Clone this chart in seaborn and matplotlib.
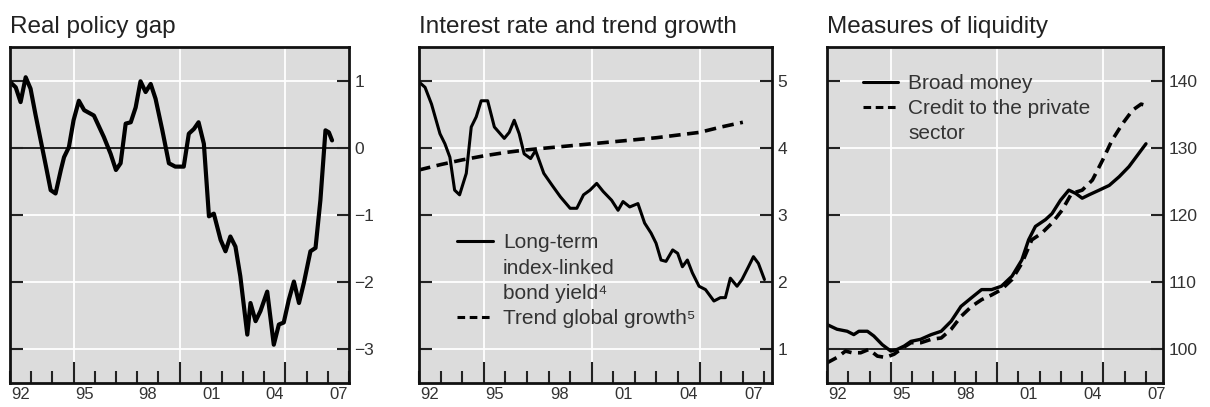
import matplotlib
matplotlib.use("Agg")
import matplotlib.pyplot as plt
from matplotlib.ticker import MultipleLocator
from matplotlib.lines import Line2D
import seaborn as sns

# ---- Real policy gap (percentage points) ----
gap_t = [1992.0, 1992.27, 1992.5, 1992.74, 1992.97, 1993.2, 1993.45, 1993.7, 1993.92,
         1994.15, 1994.4, 1994.55, 1994.78, 1995.0, 1995.25, 1995.5, 1995.96, 1996.43,
         1996.75, 1997.0, 1997.22, 1997.46, 1997.7, 1997.93, 1998.16, 1998.4, 1998.64,
         1998.87, 1999.19, 1999.5, 1999.8, 2000.2, 2000.44, 2000.68, 2000.9, 2001.15,
         2001.39, 2001.62, 2001.94, 2002.17, 2002.4, 2002.64, 2002.87, 2003.2, 2003.35,
         2003.59, 2003.82, 2004.14, 2004.45, 2004.69, 2004.92, 2005.16, 2005.4, 2005.64,
         2005.87, 2006.18, 2006.42, 2006.65, 2006.89, 2007.05, 2007.2]
gap_v = [0.98, 0.90, 0.68, 1.05, 0.88, 0.50, 0.11, -0.28, -0.63,
         -0.68, -0.33, -0.14, 0.01, 0.41, 0.70, 0.56, 0.48, 0.16,
         -0.09, -0.33, -0.23, 0.36, 0.38, 0.60, 0.99, 0.83, 0.95,
         0.73, 0.26, -0.23, -0.28, -0.28, 0.21, 0.28, 0.38, 0.06,
         -1.02, -0.98, -1.37, -1.54, -1.32, -1.47, -1.91, -2.78, -2.31,
         -2.58, -2.43, -2.14, -2.93, -2.63, -2.60, -2.26, -1.99, -2.31,
         -2.01, -1.54, -1.49, -0.78, 0.26, 0.23, 0.11]

# ---- Long-term index-linked bond yield and trend global growth (%) ----
yld_t = [1992.0, 1992.28, 1992.58, 1992.97, 1993.2, 1993.43, 1993.65, 1993.88, 1994.19,
         1994.42, 1994.65, 1994.88, 1995.18, 1995.49, 1995.95, 1996.18, 1996.41, 1996.64,
         1996.87, 1997.17, 1997.4, 1997.78, 1998.17, 1998.55, 1999.0, 1999.31, 1999.62,
         1999.92, 2000.23, 2000.53, 2000.92, 2001.22, 2001.45, 2001.76, 2002.14, 2002.45,
         2002.75, 2002.98, 2003.21, 2003.44, 2003.75, 2003.98, 2004.2, 2004.43, 2004.66,
         2004.97, 2005.27, 2005.66, 2005.96, 2006.19, 2006.42, 2006.73, 2006.96, 2007.26,
         2007.49, 2007.72, 2008.0]
yld_v = [4.98, 4.90, 4.65, 4.21, 4.06, 3.86, 3.37, 3.30, 3.62,
         4.31, 4.46, 4.70, 4.70, 4.31, 4.14, 4.23, 4.41, 4.21,
         3.91, 3.84, 3.96, 3.62, 3.44, 3.27, 3.10, 3.10, 3.30,
         3.37, 3.47, 3.35, 3.22, 3.07, 3.20, 3.12, 3.17, 2.88,
         2.73, 2.58, 2.33, 2.31, 2.48, 2.43, 2.23, 2.33, 2.14,
         1.94, 1.89, 1.72, 1.77, 1.77, 2.06, 1.94, 2.04, 2.23,
         2.38, 2.28, 2.04]
trend_t = [1992, 1993, 1994, 1995, 1996, 1997, 1998, 1999, 2000, 2001, 2002, 2003,
           2004, 2005, 2006, 2007]
trend_v = [3.67, 3.75, 3.82, 3.88, 3.93, 3.97, 4.00, 4.03, 4.06, 4.09, 4.12, 4.15,
           4.19, 4.23, 4.31, 4.38]

# ---- Measures of liquidity (index) ----
money_t = [1992.0, 1992.47, 1992.95, 1993.26, 1993.5, 1993.9, 1994.2, 1994.6, 1995.0,
           1995.3, 1995.63, 1995.95, 1996.4, 1996.9, 1997.37, 1997.84, 1998.3, 1998.8,
           1999.27, 1999.74, 2000.2, 2000.7, 2001.16, 2001.48, 2001.8, 2002.27, 2002.58,
           2002.98, 2003.37, 2003.7, 2004.0, 2004.32, 2004.8, 2005.27, 2005.74, 2006.2,
           2006.6, 2007.0]
money_v = [103.7, 103.0, 102.7, 102.2, 102.7, 102.7, 102.0, 100.7, 99.75,
           100.0, 100.5, 101.2, 101.5, 102.2, 102.7, 104.2, 106.4, 107.7,
           108.9, 108.9, 109.4, 110.9, 113.3, 116.3, 118.3, 119.3, 120.2,
           122.2, 123.7, 123.2, 122.5, 123.0, 123.7, 124.4, 125.7, 127.2,
           128.9, 130.6]
credit_t = [1992.0, 1992.47, 1992.87, 1993.18, 1993.58, 1993.97, 1994.37, 1994.76, 1995.16,
            1995.55, 1995.95, 1996.42, 1996.9, 1997.37, 1997.84, 1998.3, 1998.8, 1999.27,
            1999.74, 2000.2, 2000.7, 2001.16, 2001.63, 2002.1, 2002.58, 2003.05, 2003.5,
            2004.0, 2004.48, 2004.95, 2005.4, 2005.9, 2006.37, 2006.77, 2007.0]
credit_v = [98.0, 98.8, 99.75, 99.5, 99.5, 100.0, 99.0, 98.8, 99.3,
            100.2, 101.0, 101.0, 101.5, 101.7, 103.0, 104.9, 106.4, 107.4,
            108.1, 108.9, 110.4, 112.8, 116.3, 117.3, 118.8, 120.7, 123.2,
            123.7, 125.2, 128.1, 131.1, 133.6, 135.6, 136.5, 136.3]

year_labels = ["92", "95", "98", "01", "04", "07"]
label_years = [1992, 1995, 1998, 2001, 2004, 2007]

titles = ["Real policy gap", "Interest rate and trend growth", "Measures of liquidity"]

sns.set_style("darkgrid", {"axes.facecolor": "#dcdcdc", "grid.color": "white"})
plt.rcParams["font.family"] = ["Liberation Sans", "DejaVu Sans"]
plt.rcParams["axes.unicode_minus"] = True

W, H = 1210, 407
fig = plt.figure(figsize=(W / 100, H / 100), dpi=100)
fig.patch.set_facecolor("white")

frames = [(10, 349), (419, 772), (827, 1163)]
top_px, bot_px = 47, 383
xlims = [(1992, 2008), (1992, 2008.35), (1992, 2007.8)]
ylims = [(-3.5, 1.5), (0.5, 5.5), (95, 145)]
yticks = [[-3, -2, -1, 0, 1], [1, 2, 3, 4, 5], [100, 110, 120, 130, 140]]

axes = []
for (l, r), xl, yl, yt, title in zip(frames, xlims, ylims, yticks, titles):
    ax = fig.add_axes([l / W, (H - bot_px) / H, (r - l) / W, (bot_px - top_px) / H])
    ax.set_xlim(*xl)
    ax.set_ylim(*yl)
    ax.set_yticks(yt)
    ax.set_yticklabels([f"{v:g}".replace("-", "\u2212") for v in yt])
    ax.set_xticks([1995, 2000, 2005])
    ax.set_xticklabels([])
    ax.xaxis.set_minor_locator(MultipleLocator(1))
    ax.grid(which="major", color="white", linewidth=1.3)
    ax.grid(which="minor", visible=False)
    ax.tick_params(axis="x", which="major", direction="in", length=15, width=1.5,
                   color="#222222", bottom=True, top=False)
    ax.tick_params(axis="x", which="minor", direction="in", length=8.5, width=1.5,
                   color="#222222", bottom=True, top=False)
    ax.tick_params(axis="y", direction="in", length=9, width=1.5, color="#222222",
                   left=True, right=True, labelleft=False, labelright=True,
                   labelsize=12.5, labelcolor="#333333", pad=4)
    for s in ax.spines.values():
        s.set_visible(True)
        s.set_color("#111111")
        s.set_linewidth(2.0)
    sec = ax.secondary_xaxis("bottom")
    sec.set_xticks([y + 0.5 for y in label_years], labels=year_labels)
    sec.tick_params(length=0, pad=3, labelsize=12, labelcolor="#333333")
    sec.spines["bottom"].set_visible(False)
    ax.set_title(title, loc="left", fontsize=17.5, color="#222222", pad=10)
    ax.set_xlabel("")
    ax.set_ylabel("")
    axes.append(ax)

ax1, ax2, ax3 = axes

# Panel 1
ax1.axhline(0, color="#222222", linewidth=1.4, zorder=1.5)
sns.lineplot(x=gap_t, y=gap_v, ax=ax1, color="black", linewidth=3.0, sort=False)

# Panel 2
sns.lineplot(x=yld_t, y=yld_v, ax=ax2, color="black", linewidth=2.2, sort=False)
sns.lineplot(x=trend_t, y=trend_v, ax=ax2, color="black", linewidth=2.6, sort=False)
ax2.lines[-1].set_dashes([3.2, 1.8])
blank = Line2D([], [], color="none")
h_solid = Line2D([], [], color="black", linewidth=2.2)
h_dash = Line2D([], [], color="black", linewidth=2.2, dashes=[2.5, 1.5])
legend_kw = dict(loc="upper left", frameon=False, fontsize=15, handlelength=1.7,
                 handletextpad=0.5, labelspacing=0.3, borderpad=0, borderaxespad=0,
                 labelcolor="#333333")
ax2.legend([h_solid, blank, blank, h_dash],
           ["Long-term", "index-linked", "bond yield\u2074", "Trend global growth\u2075"],
           bbox_to_anchor=(0.108, 0.445), **legend_kw)

# Panel 3
ax3.axhline(100, color="#222222", linewidth=1.4, zorder=1.5)
sns.lineplot(x=money_t, y=money_v, ax=ax3, color="black", linewidth=2.4, sort=False)
sns.lineplot(x=credit_t, y=credit_v, ax=ax3, color="black", linewidth=2.6, sort=False)
ax3.lines[-1].set_dashes([3.0, 1.8])
ax3.legend([h_solid, h_dash, blank],
           ["Broad money", "Credit to the private", "sector"],
           bbox_to_anchor=(0.106, 0.92), **legend_kw)

fig.savefig("out.png", dpi=100, facecolor="white")
